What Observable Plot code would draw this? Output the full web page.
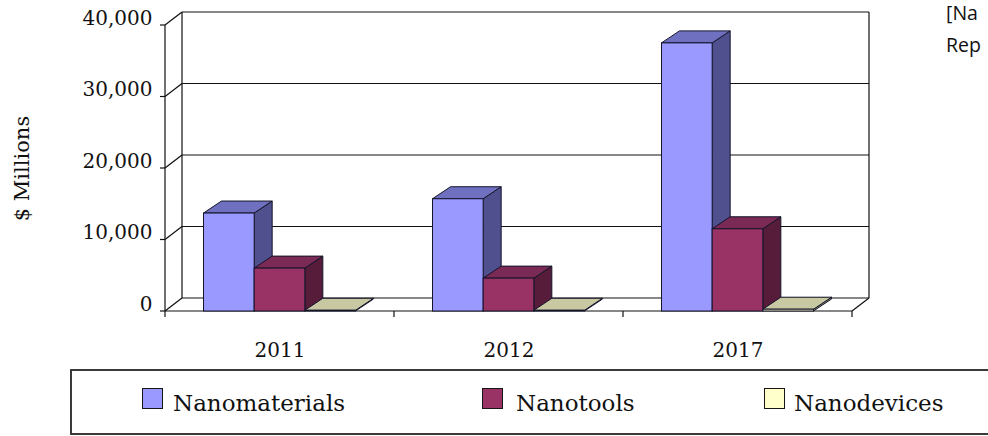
<!DOCTYPE html>
<html>
<head>
<meta charset="utf-8">
<script src="https://cdn.jsdelivr.net/npm/d3@7"></script>
<script src="https://cdn.jsdelivr.net/npm/@observablehq/plot@0.6"></script>
<style>
  html, body { margin: 0; padding: 0; background: #fff; overflow: hidden; }
  #wrap { position: relative; width: 988px; height: 436px; overflow: hidden; background: #fff; }
  #chart { position: absolute; left: 0; top: 0; }
  #note { position: absolute; left: 946px; top: -3px; font-family: "Open Sans", "Noto Sans", sans-serif;
          font-size: 19.5px; line-height: 32px; color: #111; white-space: nowrap; }
  #legend { position: absolute; left: 70px; top: 369px; width: 940px; height: 66px; box-sizing: border-box;
            border: 2px solid #3a3a3a; font-family: "DejaVu Serif", serif; font-size: 23px; color: #111; }
  .sw { position: absolute; top: 17px; width: 21px; height: 21px; border: 1.5px solid #161616; box-sizing: border-box; }
  .lab { position: absolute; top: 21px; line-height: 23px; white-space: nowrap; }
</style>
</head>
<body>
<div id="wrap">
  <div id="chart"></div>
  <div id="note">[Na<br>Rep</div>
  <div id="legend"></div>
</div>
<script>
// ---- data ----
const years = ["2011", "2012", "2017"];
const series = ["Nanomaterials", "Nanotools", "Nanodevices"];
const nanomaterials = [13700, 15700, 37500];
const nanotools = [6000, 4600, 11500];
const nanodevices = [100, 100, 250];
const yTicks = [0, 10000, 20000, 30000, 40000];
const yLabel = "$ Millions";

// ---- styles ----
const frontColors = ["#9999FF", "#993366", "#FFFFCC"];
const sideColors = ["#50508F", "#561C39", "#8E8E70"];
const topColors = ["#7070C0", "#7A2A55", "#C8C8A2"];
const edge = "#14142a";

const values = [nanomaterials, nanotools, nanodevices];

const W = 988, H = 368, ML = 165, MR = 136, MT = 25, MB = 57;
const BAND = (W - ML - MR) / years.length;   // width of one year group
const PAD = 38.5;                              // empty space at each side of a group
const BW = (BAND - 2 * PAD) / series.length;   // bar width
const DX = 18, DY = -12;                       // bar depth
const WX = 17, WY = -13;                       // wall depth

const rows = series.map((s, i) => years.map((yr, j) => ({year: yr, series: s, value: values[i][j]})));

// back walls, floor, grid and ticks
function frame(index, scales, vals, dims) {
  const g = d3.create("svg:g").attr("fill", "none").attr("stroke", "#111").attr("stroke-width", 1.2);
  const y = scales.y;
  const L = dims.marginLeft, R = dims.width - dims.marginRight;
  const y0 = y(0), yTop = y(d3.max(yTicks));
  const line = (x1, y1, x2, y2) => g.append("line").attr("x1", x1).attr("y1", y1).attr("x2", x2).attr("y2", y2);
  for (const t of yTicks) {
    line(L + WX, y(t) + WY, R + WX, y(t) + WY);     // back grid
    line(L, y(t), L + WX, y(t) + WY);               // left wall diagonal
    line(L - 5, y(t), L, y(t));                     // tick
  }
  line(L + WX, yTop + WY, L + WX, y0 + WY);         // back-left edge
  line(R + WX, yTop + WY, R + WX, y0 + WY);         // back-right edge
  line(L, yTop, L, y0 + 6);                         // front value axis
  line(L, y0, R, y0);                               // front floor edge
  line(R, y0, R + WX, y0 + WY);                     // right floor edge
  const xs = scales.x;
  const bw = xs.bandwidth ? xs.bandwidth() : BAND;
  years.forEach((yr, j) => { const xb = xs(yr) + bw; line(xb, y0, xb, y0 + 6); });
  return g.node();
}

// side and top faces of the 3D columns
function faces(index, scales, vals, dims) {
  const g = d3.create("svg:g").attr("stroke", edge).attr("stroke-width", 1).attr("stroke-linejoin", "round");
  const xs = scales.x, y = scales.y;
  years.forEach((yr, j) => {
    series.forEach((s, i) => {
      const x0 = xs(yr) + PAD + i * BW, x1 = x0 + BW;
      const yb = y(0), yt = y(values[i][j]);
      g.append("polygon").attr("fill", sideColors[i])
        .attr("points", [[x1, yb], [x1 + DX, yb + DY], [x1 + DX, yt + DY], [x1, yt]].join(" "));
      g.append("polygon").attr("fill", topColors[i])
        .attr("points", [[x0, yt], [x0 + DX, yt + DY], [x1 + DX, yt + DY], [x1, yt]].join(" "));
    });
  });
  return g.node();
}

const plot = Plot.plot({
  width: W, height: H,
  marginLeft: ML, marginRight: MR, marginTop: MT, marginBottom: MB,
  style: {fontFamily: "DejaVu Serif, serif", fontSize: "20px", color: "#111", background: "transparent"},
  x: {domain: years, padding: 0, label: null},
  y: {domain: [0, 40000], label: null},
  marks: [
    frame,
    faces,
    ...rows.map((data, i) => Plot.barY(data, {
      x: "year", y: "value", fill: frontColors[i], stroke: edge, strokeWidth: 1,
      insetLeft: PAD + i * BW, insetRight: BAND - PAD - (i + 1) * BW
    })),
    Plot.axisY(yTicks, {tickSize: 0, tickPadding: 13, dy: -7, tickFormat: d3.format(","), fontSize: 20, label: null}),
    Plot.text([yLabel], {frameAnchor: "left", text: d => d, rotate: -90, dx: -143, fontSize: 21, textAnchor: "middle"}),
    Plot.axisX({tickSize: 0, tickPadding: 31, fontSize: 20, label: null})
  ]
});
document.getElementById("chart").appendChild(plot);

// legend
const legend = document.getElementById("legend");
const swX = [70, 410, 692], labX = [101, 444, 722];
series.forEach((s, i) => {
  const sw = document.createElement("div");
  sw.className = "sw"; sw.style.left = swX[i] + "px"; sw.style.background = frontColors[i];
  legend.appendChild(sw);
  const lab = document.createElement("div");
  lab.className = "lab"; lab.style.left = labX[i] + "px"; lab.textContent = s;
  legend.appendChild(lab);
});
</script>
</body>
</html>
